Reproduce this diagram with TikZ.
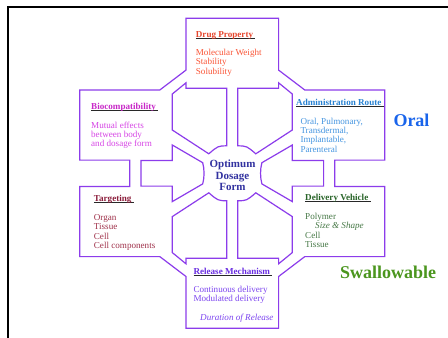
\documentclass[tikz,border=0pt]{standalone}
\usepackage{fontspec}
\setmainfont{Liberation Serif}
\definecolor{outl}{RGB}{140,60,235}
\definecolor{ulcol}{RGB}{40,40,40}
\definecolor{dph}{RGB}{230,70,45}
\definecolor{dpb}{RGB}{250,85,55}
\definecolor{bih}{RGB}{200,40,200}
\definecolor{bib}{RGB}{215,70,230}
\definecolor{adh}{RGB}{40,130,210}
\definecolor{adb}{RGB}{70,150,225}
\definecolor{tah}{RGB}{140,30,60}
\definecolor{tab}{RGB}{160,50,75}
\definecolor{dvh}{RGB}{40,100,40}
\definecolor{dvb}{RGB}{70,120,70}
\definecolor{reh}{RGB}{105,45,225}
\definecolor{reb}{RGB}{125,70,240}
\definecolor{ctr}{RGB}{50,50,160}
\definecolor{oralc}{RGB}{25,100,235}
\definecolor{swalc}{RGB}{75,150,30}
\newsavebox{\ulbox}
\newcommand{\hul}[1]{\sbox{\ulbox}{#1\ }\rlap{\textcolor{ulcol}{\rule[-1.8pt]{\wd\ulbox}{0.8pt}}}#1}
\begin{document}
\begin{tikzpicture}[x=1pt,y=-1pt,
  outline/.style={draw=outl, line width=1.2pt, line join=miter},
  txt/.style={anchor=base west, inner sep=0pt, align=left, font=\fontsize{9.1}{9.35}\selectfont},
  hd/.style={txt, font=\fontsize{9.1}{9.35}\selectfont\bfseries},
  big/.style={anchor=base west, inner sep=0pt, font=\fontsize{18}{18}\selectfont\bfseries}]
\useasboundingbox (0,0) rectangle (448,338);
\fill[white] (0,0) rectangle (448,338);
% slide border
\draw[line width=2pt] (7.7,338) -- (7.7,7) -- (448,7);
\begin{scope}[shift={(232.3,173.3)}]
  % outer frame
  \draw[outline] (-46.3,-155) -- (46.3,-155) -- (46.3,-103.2) -- (72.5,-83.3) -- (152.5,-83.3)
    -- (152.5,-13.2) -- (102.5,-13.2) -- (102.5,13.2) -- (152.5,13.2) -- (152.5,83.3)
    -- (72.5,83.3) -- (46.3,103.2) -- (46.3,155) -- (-46.3,155) -- (-46.3,103.2)
    -- (-72.5,83.3) -- (-152.5,83.3) -- (-152.5,13.2) -- (-102.5,13.2) -- (-102.5,-13.2)
    -- (-152.5,-13.2) -- (-152.5,-83.3) -- (-72.5,-83.3) -- (-46.3,-103.2) -- cycle;
  % four diagonal pentagons
  \foreach \sx/\sy in {1/1,-1/1,1/-1,-1/-1}{
    \begin{scope}[xscale=\sx,yscale=\sy]
      \draw[outline] (-60,-79.3) -- (-46.3,-90.5) -- (-46.3,-85) -- (-5.5,-85) -- (-5.5,-27.5)
        .. controls (-14.4,-27.3) .. (-23.5,-19.5) -- (-60,-43.3) -- cycle;
    \end{scope}
  }
  % left and right block arrows
  \foreach \sx in {1,-1}{
    \begin{scope}[xscale=\sx]
      \draw[outline] (-91.3,-12.8) -- (-60,-12.8) -- (-60,-28.3) -- (-29.6,-10.6)
        .. controls (-27.8,-4) and (-27.8,4) .. (-29.6,10.6) -- (-60,28.3) -- (-60,12.8)
        -- (-91.3,12.8) -- cycle;
    \end{scope}
  }
\end{scope}
% texts (multi-line nodes are anchored at the baseline of their last line)
\node[hd, text=dph] (dph) at (195.7,37) {\hul{Drug Property}};
\node[txt, text=dpb] (dpb) at (195.7,74.0) {Molecular Weight\\Stability\\Solubility};
\node[hd, text=bih] (bih) at (91,109) {\hul{Biocompatibility}};
\node[txt, text=bib] (bib) at (91,146.7) {Mutual effects\\between body\\and dosage form};
\node[hd, text=adh] (adh) at (296,105) {\hul{Administration Route}};
\node[txt, text=adb] (adb) at (300.3,152.05) {Oral, Pulmonary,\\Transdermal,\\Implantable,\\Parenteral};
\node[big, text=oralc] (oral) at (393.3,126) {Oral};
\node[hd, text=tah] (tah) at (93.7,201.3) {\hul{Targeting}};
\node[txt, text=tab] (tab) at (93.7,248.35) {Organ\\Tissue\\Cell\\Cell components};
\node[hd, text=dvh] (dvh) at (305,200) {\hul{Delivery Vehicle}};
\node[txt, text=dvb] (dvb) at (305,247.35) {Polymer\\\hspace*{10pt}\textit{Size \& Shape}\\Cell\\Tissue};
\node[hd, text=reh] (reh) at (193.3,274) {\hul{Release Mechanism}};
\node[txt, text=reb] (reb) at (193.3,301.65) {Continuous delivery\\Modulated delivery};
\node[txt, text=reb, font=\fontsize{9.1}{9.35}\selectfont\itshape] (rei) at (200,320.3) {Duration of Release};
\node[big, text=swalc] (swal) at (340,278.7) {Swallowable};
\node[anchor=base, inner sep=0pt, align=center, text=ctr, font=\fontsize{11}{11.2}\selectfont\bfseries] (ctr) at (232.5,190.2) {Optimum\\Dosage\\Form};
\end{tikzpicture}
\end{document}
